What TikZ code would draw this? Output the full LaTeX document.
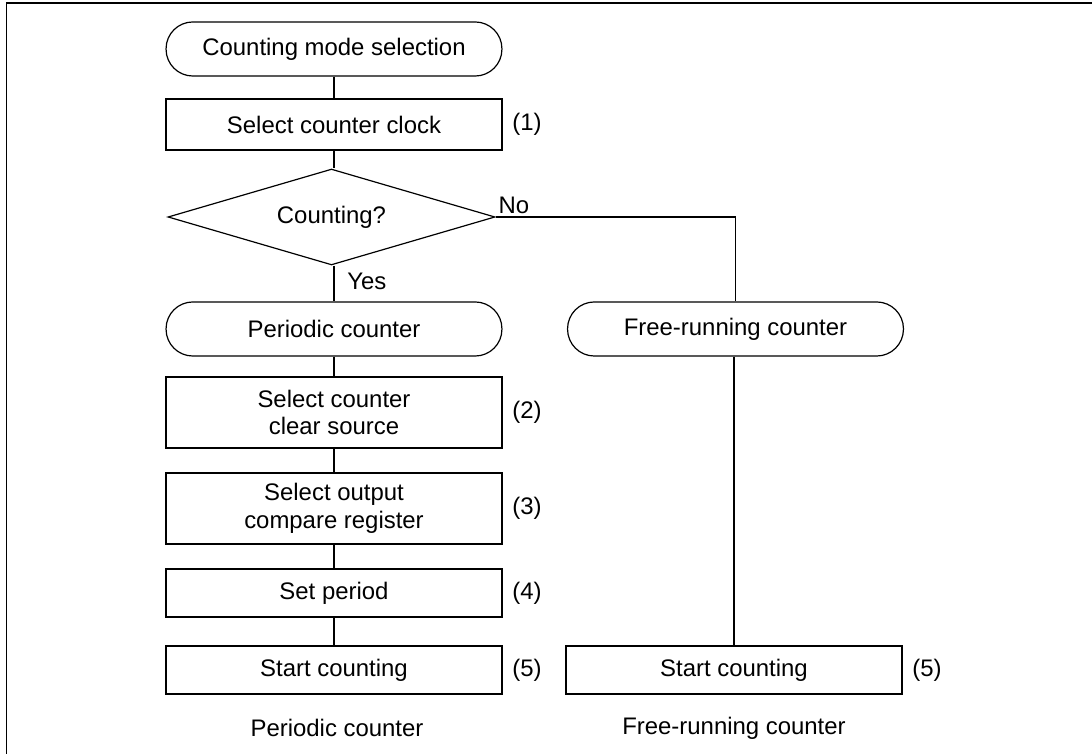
\documentclass[tikz,border=0pt]{standalone}
\usepackage{fontspec}
\setmainfont{Liberation Sans}
\usetikzlibrary{positioning,shapes.geometric}

\begin{document}
\begin{tikzpicture}[
      x=0.418pt, y=-0.418pt, font=\fontsize{10}{11.5}\selectfont,
      line width=0.5pt,
      term/.style={draw, rounded corners=11.2pt, minimum width=140.4pt,
        minimum height=22.6pt, inner sep=0pt},
      proc/.style={draw, align=center, minimum width=140.4pt,
        minimum height=20pt, inner sep=0pt},
      tall/.style={proc, minimum height=29.7pt},
      decide/.style={draw, diamond, aspect=3.4, minimum width=136.7pt,
        minimum height=40.1pt, inner sep=0pt},
      num/.style={anchor=west, xshift=0.5pt}
    ]
    \useasboundingbox (0,0) rectangle (1092,754);
    % frame
    \draw[line width=0.7pt] (6.5,754) -- (6.5,3) -- (1092,3);

    % left column
    \node[term] (modesel) at (334,49) {Counting mode selection};
    \node[proc, minimum height=21.3pt] (clk) at (334,124.5) {Select counter clock};
    \node[decide] (count) at (331.5,217) {Counting?};
    \node[term] (per) at (334,329) {Periodic counter};
    \node[tall] (clr) at (334,412.5) {Select counter\\clear source};
    \node[tall] (cmp) at (334,508.5) {Select output\\compare register};
    \node[proc] (prd) at (334,593) {Set period};
    \node[proc] (startp) at (334,670) {Start counting};

    % right column
    \node[term] (free) at (735.5,329) {Free-running counter};
    \node[proc] (startf) at (734,670) {Start counting};
    \coordinate (corner) at (735.5,217);

    % step numbers
    \node[num] at (clk.east) {(1)};
    \node[num] at (clr.east) {(2)};
    \node[num] at (cmp.east) {(3)};
    \node[num] at (prd.east) {(4)};
    \node[num] at (startp.east) {(5)};
    \node[num] at (startf.east) {(5)};

    % connectors
    \draw (modesel) -- (clk);
    \draw (clk.south) -- (clk.south |- count.north);
    \draw (count.south -| per.north) -- (per.north)
      node[pos=0.45, anchor=west, xshift=2pt] {Yes};
    \draw (count.east) -- (corner) -- (free.north);
    \node[anchor=south west, inner sep=1pt] at (count.east) {No};
    \draw (per) -- (clr);
    \draw (clr) -- (cmp);
    \draw (cmp) -- (prd);
    \draw (prd) -- (startp);
    \draw (free.south -| startf.north) -- (startf.north);

    % captions
    \node at (337,728) {Periodic counter};
    \node at (734,728) {Free-running counter};
\end{tikzpicture}
\end{document}
